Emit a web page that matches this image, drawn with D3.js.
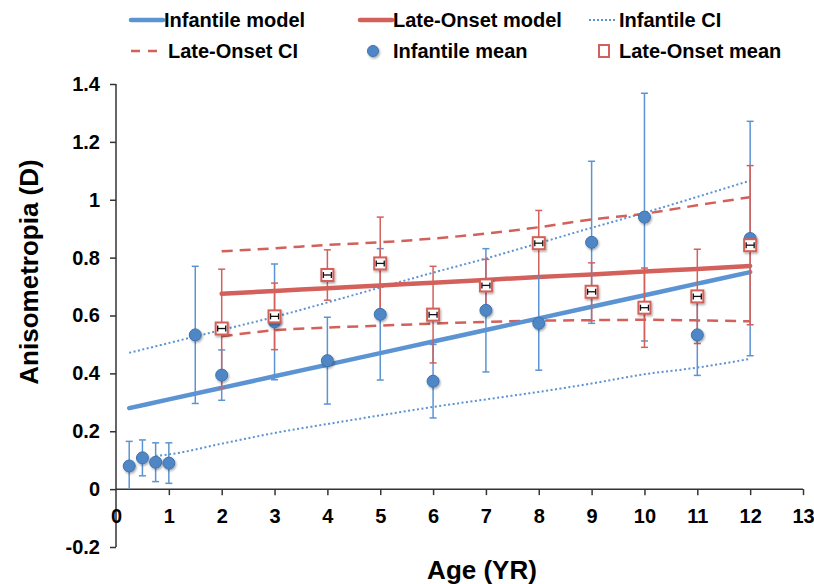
<!DOCTYPE html>
<html lang="en">
<head>
    <meta charset="UTF-8">
    <script src="https://d3js.org/d3.v7.min.js"></script>
    <title>Anisometropia by age</title>
    <style>
        body { margin: 0; background: white; }
        text { font-family: "Liberation Sans", Arial, sans-serif; font-weight: bold; fill: #000; }
    </style>
</head>
<body>
<script>
    /*------------------- data ---------------------------------------*/
    // infantile group means and half error bars
    const infAge  = [0.25, 0.5, 0.75, 1, 1.5, 2, 3, 4, 5, 6, 7, 8, 9, 10, 11, 12];
    const infMean = [0.08, 0.108, 0.093, 0.09, 0.533, 0.394, 0.578, 0.444, 0.604, 0.373, 0.618, 0.573, 0.853, 0.94, 0.533, 0.866];
    const infErr  = [0.085, 0.062, 0.067, 0.07, 0.237, 0.087, 0.2, 0.15, 0.227, 0.127, 0.213, 0.162, 0.28, 0.428, 0.14, 0.405];

    // late-onset group means and half error bars
    const loAge  = [2, 3, 4, 5, 6, 7, 8, 9, 10, 11, 12];
    const loMean = [0.555, 0.597, 0.74, 0.78, 0.603, 0.704, 0.85, 0.682, 0.627, 0.666, 0.843];
    const loErr  = [0.205, 0.115, 0.087, 0.16, 0.167, 0.09, 0.113, 0.1, 0.137, 0.163, 0.275];

    // fitted models
    const infModelAge = [0.25, 1, 2, 3, 4, 5, 6, 7, 8, 9, 10, 11, 12];
    const infModel    = [0.28, 0.31, 0.35, 0.39, 0.43, 0.47, 0.51, 0.55, 0.59, 0.63, 0.67, 0.71, 0.75];
    const loModelAge  = [2, 3, 4, 5, 6, 7, 8, 9, 10, 11, 12];
    const loModel     = [0.675, 0.685, 0.694, 0.704, 0.713, 0.723, 0.733, 0.742, 0.752, 0.761, 0.771];

    // confidence bands
    const infUpperAge = [0.25, 2, 3, 4, 5, 6, 7, 8, 9, 10, 11, 12];
    const infUpper    = [0.471, 0.55, 0.595, 0.645, 0.697, 0.748, 0.797, 0.85, 0.903, 0.955, 1.01, 1.066];
    const infLowerAge = [0.75, 1, 2, 3, 4, 5, 6, 7, 8, 9, 10, 11, 12];
    const infLower    = [0.115, 0.12, 0.157, 0.194, 0.225, 0.255, 0.284, 0.31, 0.336, 0.365, 0.397, 0.42, 0.45];
    const loUpper     = [0.822, 0.832, 0.844, 0.853, 0.866, 0.883, 0.905, 0.932, 0.952, 0.981, 1.009];
    const loLower     = [0.528, 0.549, 0.558, 0.565, 0.572, 0.578, 0.582, 0.584, 0.585, 0.583, 0.58];

    const xTicks = d3.range(0, 14);
    const yTicks = [-0.2, 0, 0.2, 0.4, 0.6, 0.8, 1, 1.2, 1.4];

    /*------------------- setup --------------------*/
    const blue = "#5b93d3", blueDark = "#3f72ad", red = "#d3605a";
    const width = 814, height = 584;

    const svg = d3.select("body").append("svg")
        .attr("width", width)
        .attr("height", height);

    const defs = svg.append("defs");
    defs.append("filter").attr("id", "shadow")
        .attr("x", "-50%").attr("y", "-50%").attr("width", "200%").attr("height", "200%")
        .append("feDropShadow")
        .attr("dx", 1).attr("dy", 1.5).attr("stdDeviation", 1.2)
        .attr("flood-color", "#000").attr("flood-opacity", 0.35);

    const x = d3.scaleLinear().domain([0, 13]).range([116, 803]);
    const y = d3.scaleLinear().domain([-0.2, 1.4]).range([547, 84]);

    /*------------------- axes --------------------*/
    // plain hyphen for negatives, like the original
    const yAxis = svg.append("g")
        .attr("transform", `translate(${x(0)},0)`)
        .call(d3.axisLeft(y).tickValues(yTicks).tickSize(6).tickPadding(10)
            .tickFormat(d => String(+d.toFixed(1))));
    yAxis.selectAll("text").style("font-size", "20px");

    const xAxis = svg.append("g")
        .attr("transform", `translate(0,${y(0)})`)
        .call(d3.axisBottom(x).tickValues(xTicks).tickSize(6).tickPadding(14));
    xAxis.selectAll("text").style("font-size", "20px");
    xAxis.selectAll(".tick").filter(d => d === 0).select("line").remove();

    svg.selectAll(".domain, .tick line").attr("stroke", "#333").attr("stroke-width", 1.5);
    xAxis.select(".domain").attr("d", `M${x(0)},0H${x(13)}`);
    yAxis.select(".domain").attr("d", `M0,${y(1.4)}H0V${y(-0.2)}`);

    svg.append("text")
        .attr("transform", "translate(38,272) rotate(-90)")
        .attr("text-anchor", "middle")
        .style("font-size", "26px")
        .text("Anisometropia (D)");

    svg.append("text")
        .attr("x", 482).attr("y", 579)
        .attr("text-anchor", "middle")
        .style("font-size", "26px")
        .text("Age (YR)");

    /*------------------- lines --------------------*/
    const line = d3.line().x(d => x(d[0])).y(d => y(d[1])).curve(d3.curveMonotoneX);
    const pairs = (xs, ys) => xs.map((v, i) => [v, ys[i]]);

    svg.append("path").datum(pairs(infUpperAge, infUpper))
        .attr("d", line).attr("fill", "none").attr("stroke", blue)
        .attr("stroke-width", 2).attr("stroke-dasharray", "2,2.5");
    svg.append("path").datum(pairs(infLowerAge, infLower))
        .attr("d", line).attr("fill", "none").attr("stroke", blue)
        .attr("stroke-width", 2).attr("stroke-dasharray", "2,2.5");
    svg.append("path").datum(pairs(loAge, loUpper))
        .attr("d", line).attr("fill", "none").attr("stroke", red)
        .attr("stroke-width", 2.5).attr("stroke-dasharray", "11,7");
    svg.append("path").datum(pairs(loAge, loLower))
        .attr("d", line).attr("fill", "none").attr("stroke", red)
        .attr("stroke-width", 2.5).attr("stroke-dasharray", "11,7");

    svg.append("path").datum(pairs(infModelAge, infModel))
        .attr("d", line).attr("fill", "none").attr("stroke", blue)
        .attr("stroke-width", 4.5).attr("stroke-linecap", "round");
    svg.append("path").datum(pairs(loModelAge, loModel))
        .attr("d", line).attr("fill", "none").attr("stroke", red)
        .attr("stroke-width", 4.5).attr("stroke-linecap", "round");

    /*------------------- error bars --------------------*/
    function errorBars(ages, means, errs, color) {
        const g = svg.append("g").attr("stroke", color).attr("stroke-width", 1.5);
        ages.forEach((a, i) => {
            const lo = Math.max(means[i] - errs[i], 0), hi = means[i] + errs[i];
            g.append("line").attr("x1", x(a)).attr("x2", x(a)).attr("y1", y(lo)).attr("y2", y(hi));
            g.append("line").attr("x1", x(a) - 3.5).attr("x2", x(a) + 3.5).attr("y1", y(hi)).attr("y2", y(hi));
            if (means[i] - errs[i] > 0)
                g.append("line").attr("x1", x(a) - 3.5).attr("x2", x(a) + 3.5).attr("y1", y(lo)).attr("y2", y(lo));
        });
    }
    errorBars(infAge, infMean, infErr, blue);
    errorBars(loAge, loMean, loErr, red);

    /*------------------- markers --------------------*/
    svg.append("g").selectAll("circle")
        .data(pairs(infAge, infMean))
        .enter().append("circle")
        .attr("cx", d => x(d[0])).attr("cy", d => y(d[1])).attr("r", 6)
        .attr("fill", "#4f86c6").attr("stroke", blueDark).attr("stroke-width", 1)
        .attr("filter", "url(#shadow)");

    function squareMarker(g, cx, cy) {
        g.append("rect")
            .attr("x", cx - 6).attr("y", cy - 6).attr("width", 12).attr("height", 12)
            .attr("fill", "white").attr("stroke", red).attr("stroke-width", 2)
            .attr("filter", "url(#shadow)");
    }
    const sq = svg.append("g");
    pairs(loAge, loMean).forEach(d => {
        squareMarker(sq, x(d[0]), y(d[1]));
        // tiny horizontal error bar drawn inside each square
        const h = sq.append("g").attr("stroke", "#111").attr("stroke-width", 1.3);
        h.append("line").attr("x1", x(d[0]) - 4).attr("x2", x(d[0]) + 4).attr("y1", y(d[1])).attr("y2", y(d[1]));
        h.append("line").attr("x1", x(d[0]) - 4).attr("x2", x(d[0]) - 4).attr("y1", y(d[1]) - 3).attr("y2", y(d[1]) + 3);
        h.append("line").attr("x1", x(d[0]) + 4).attr("x2", x(d[0]) + 4).attr("y1", y(d[1]) - 3).attr("y2", y(d[1]) + 3);
    });

    /*------------------- legend --------------------*/
    const legend = svg.append("g").style("font-size", "20px");
    const r1 = 20, r2 = 51;

    legend.append("line").attr("x1", 131).attr("x2", 163).attr("y1", r1).attr("y2", r1)
        .attr("stroke", blue).attr("stroke-width", 4.5).attr("stroke-linecap", "round");
    legend.append("text").attr("x", 164).attr("y", r1 + 7).text("Infantile model");

    legend.append("line").attr("x1", 360).attr("x2", 392).attr("y1", r1).attr("y2", r1)
        .attr("stroke", red).attr("stroke-width", 4.5).attr("stroke-linecap", "round");
    legend.append("text").attr("x", 393).attr("y", r1 + 7).text("Late-Onset model");

    legend.append("line").attr("x1", 589).attr("x2", 616).attr("y1", r1).attr("y2", r1)
        .attr("stroke", blue).attr("stroke-width", 2).attr("stroke-dasharray", "2,2");
    legend.append("text").attr("x", 619).attr("y", r1 + 7).text("Infantile CI");

    legend.append("line").attr("x1", 131).attr("x2", 158).attr("y1", r2).attr("y2", r2)
        .attr("stroke", red).attr("stroke-width", 2.5).attr("stroke-dasharray", "9,8");
    legend.append("text").attr("x", 168).attr("y", r2 + 7).text("Late-Onset CI");

    legend.append("circle").attr("cx", 373).attr("cy", r2).attr("r", 5.5)
        .attr("fill", "#4f86c6").attr("stroke", blueDark).attr("filter", "url(#shadow)");
    legend.append("text").attr("x", 393).attr("y", r2 + 7).text("Infantile mean");

    legend.append("rect").attr("x", 599).attr("y", r2 - 6).attr("width", 10).attr("height", 12)
        .attr("fill", "white").attr("stroke", red).attr("stroke-width", 2);
    legend.append("text").attr("x", 619).attr("y", r2 + 7).text("Late-Onset mean");
</script>
</body>
</html>
